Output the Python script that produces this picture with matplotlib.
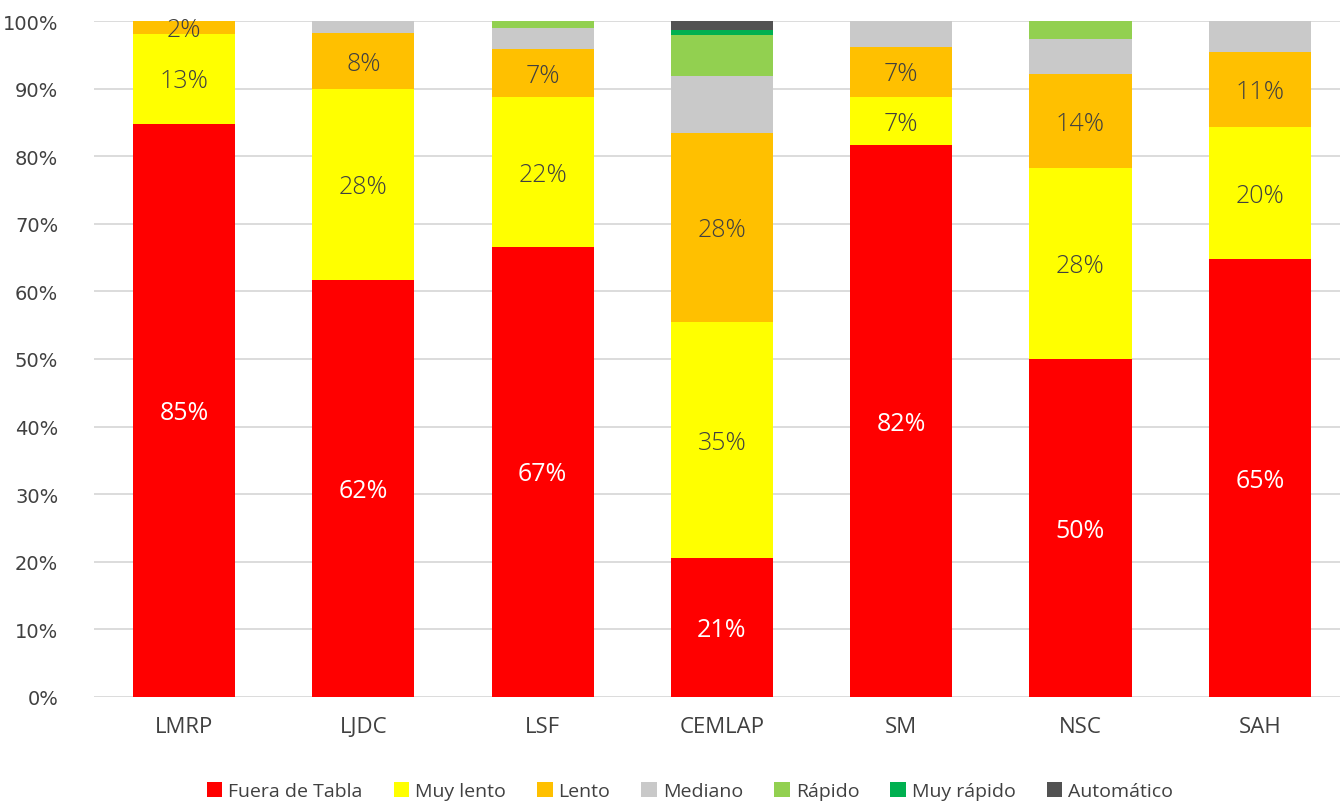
import matplotlib
matplotlib.use("Agg")
import matplotlib.pyplot as plt
import numpy as np

categories = ["LMRP", "LJDC", "LSF", "CEMLAP", "SM", "NSC", "SAH"]
fuera_de_tabla = [84.8, 61.7, 66.6, 20.6, 81.6, 50.0, 64.8]
muy_lento = [13.3, 28.2, 22.1, 34.8, 7.2, 28.2, 19.5]
lento = [1.9, 8.3, 7.1, 28.0, 7.4, 14.0, 11.1]
mediano = [0.0, 1.8, 3.2, 8.4, 3.8, 5.2, 4.6]
rapido = [0.0, 0.0, 1.0, 6.1, 0.0, 2.6, 0.0]
muy_rapido = [0.0, 0.0, 0.0, 0.7, 0.0, 0.0, 0.0]
automatico = [0.0, 0.0, 0.0, 1.4, 0.0, 0.0, 0.0]

series_names = ["Fuera de Tabla", "Muy lento", "Lento", "Mediano", "Rápido", "Muy rápido", "Automático"]
series_vals = [fuera_de_tabla, muy_lento, lento, mediano, rapido, muy_rapido, automatico]
colors = ["#FF0000", "#FFFF00", "#FFC000", "#C9C9C9", "#92D050", "#00B050", "#525252"]
label_series = {0: ("white", "normal"), 1: ("#404040", "light"), 2: ("#404040", "light")}

fig = plt.figure(figsize=(13.4, 8.03), dpi=100)
ax = fig.add_axes([94.4 / 1340, 105 / 803, 1255 / 1340, 676 / 803])

x = np.arange(len(categories))
bottom = np.zeros(len(categories))
handles = []
for i, (name, vals, col) in enumerate(zip(series_names, series_vals, colors)):
    v = np.array(vals)
    b = ax.bar(x, v, 0.57, bottom=bottom, color=col, label=name, zorder=3)
    handles.append(b)
    if i in label_series:
        c, w = label_series[i]
        for xi, (vi, bi) in enumerate(zip(v, bottom)):
            if vi >= 1.5:
                ax.text(xi, bi + vi / 2 - 0.3, f"{vi:.0f}%", ha="center", va="center",
                        fontsize=18, color=c, family="Open Sans",
                        fontweight=w, zorder=4)
    bottom += v

ax.set_xlim(-0.5, len(categories) - 0.5)
ax.set_ylim(0, 100)
ax.set_yticks(np.arange(0, 101, 10))
ax.set_yticklabels([f"{t}%" for t in range(0, 101, 10)], fontsize=14, color="#404040", family="DejaVu Sans")
ax.set_xticks(x)
ax.set_xticklabels(categories, fontsize=16, color="#404040", family="Open Sans")
ax.tick_params(axis="both", length=0)
ax.tick_params(axis="y", pad=26)
ax.tick_params(axis="x", pad=14)
ax.grid(axis="y", color="#D9D9D9", linewidth=1.3, zorder=0)
for s in ax.spines.values():
    s.set_visible(False)

fig.legend(handles=handles, labels=series_names, loc="center", bbox_to_anchor=(690 / 1340, 11 / 803),
           ncol=7, frameon=False, handlelength=0.8, handleheight=0.8,
           handletextpad=0.3, columnspacing=1.6, prop={"family": "Open Sans", "size": 14})
for t in fig.legends[0].get_texts():
    t.set_color("#404040")

fig.savefig("out.png", dpi=100)
